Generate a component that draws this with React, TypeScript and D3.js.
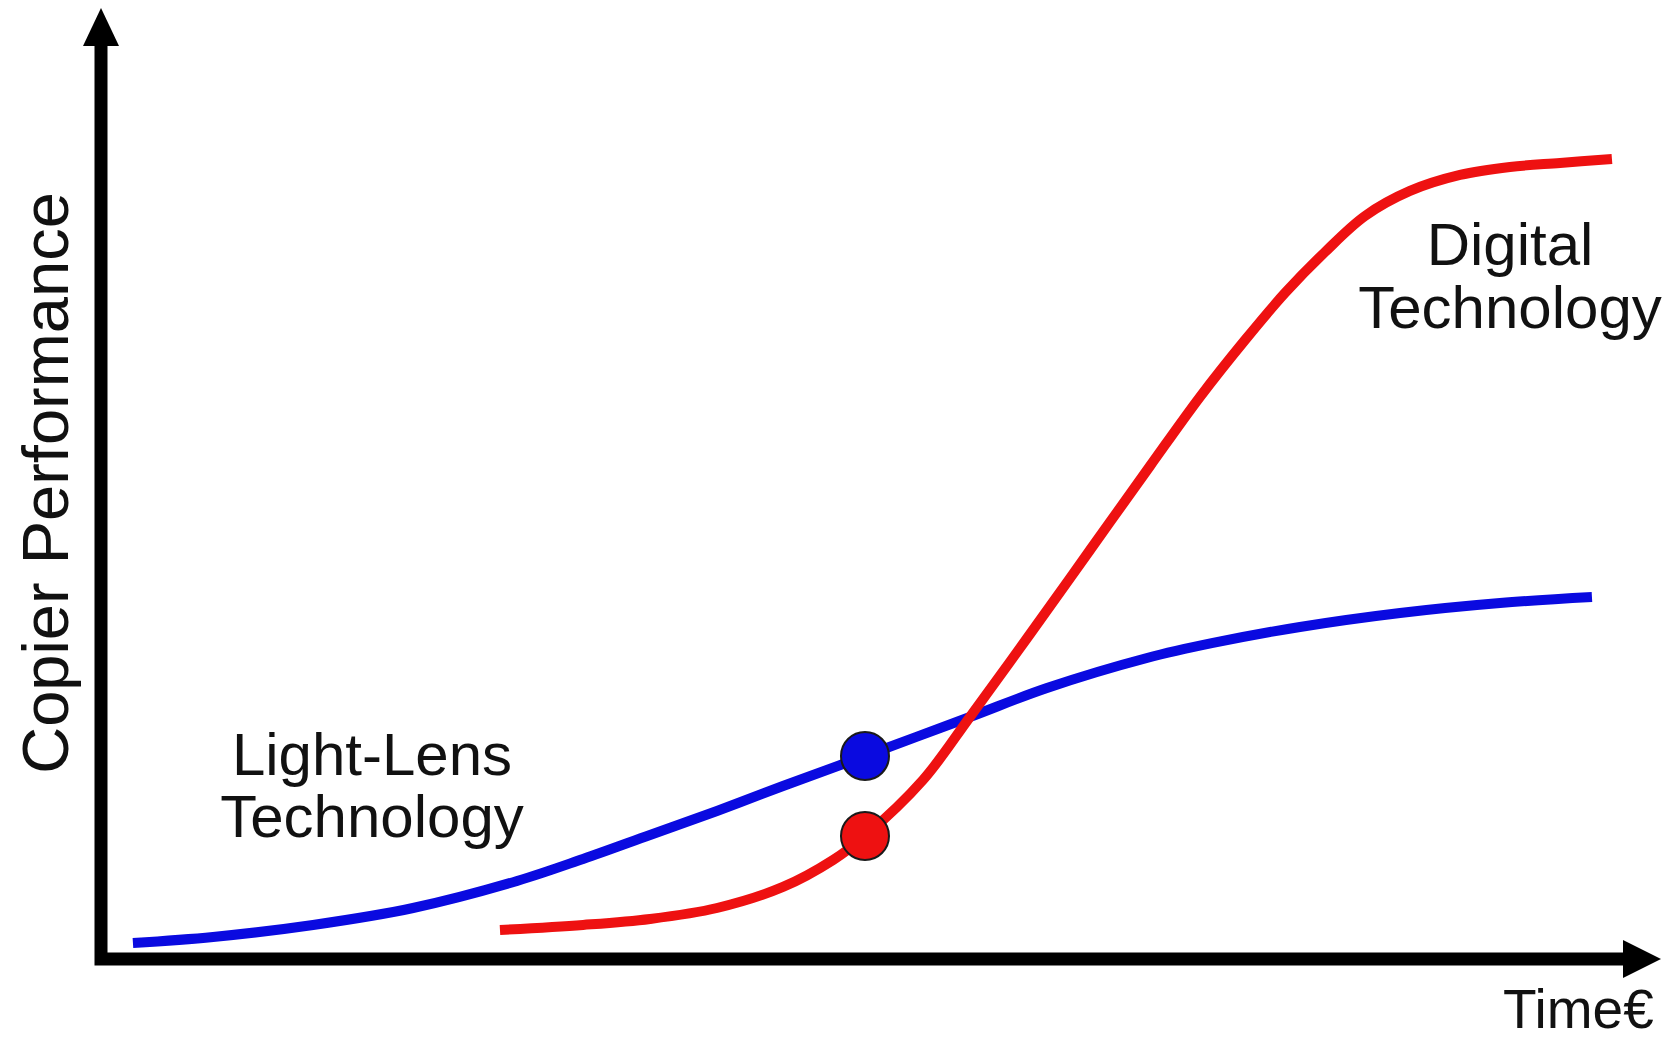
import React from "react";
import * as d3 from "d3";

// Light-Lens technology S-curve (time units 0..100, performance units 0..100)
const blueTime = [2.06, 7.23, 13.68, 20.13, 26.84, 31.1, 35.42, 39.74, 44.0, 49.29, 56.06, 61.03, 67.48, 71.74, 77.35, 83.81, 90.26, 96.19];
const bluePerf = [2.13, 2.88, 4.38, 6.5, 9.88, 12.63, 15.63, 18.63, 21.75, 25.5, 30.38, 34.0, 37.75, 39.63, 41.63, 43.38, 44.63, 45.38];

// Digital technology S-curve
const redTime = [25.74, 31.1, 35.42, 39.74, 44.0, 47.23, 49.29, 53.03, 56.06, 59.94, 63.81, 67.68, 70.9, 73.81, 76.39, 78.97, 81.55, 84.45, 87.68, 90.9, 94.13, 97.48];
const redPerf = [3.75, 4.38, 5.13, 6.5, 9.13, 12.5, 15.5, 22.5, 30.38, 40.75, 51.25, 61.75, 70.38, 77.5, 83.38, 88.5, 93.0, 96.13, 98.13, 99.13, 99.63, 100.13];

// Highlighted points
const markerTime = [49.29, 49.29];
const markerPerf = [25.5, 15.5];
const markerColor = ["#0a0ae0", "#ee1111"];

const yTitle = "Copier Performance";
const xTitle = "Time€";
const digitalLabel = ["Digital", "Technology"];
const lightLabel = ["Light-Lens", "Technology"];

const W = 1680;
const H = 1040;
const FONT = "'Liberation Sans', Arial, Helvetica, sans-serif";

export default function App() {
  const x = d3.scaleLinear().domain([0, 100]).range([101, 1651]);
  const y = d3.scaleLinear().domain([0, 100]).range([960, 160]);

  const line = d3
    .line<[number, number]>()
    .x((d) => x(d[0]))
    .y((d) => y(d[1]))
    .curve(d3.curveCatmullRom.alpha(0.5));

  const blue = blueTime.map((t, i) => [t, bluePerf[i]] as [number, number]);
  const red = redTime.map((t, i) => [t, redPerf[i]] as [number, number]);

  const axisX0 = 101;
  const axisY0 = 959;

  return (
    <svg
      width={W}
      height={H}
      style={{ position: "absolute", left: 0, top: 0, background: "#fff" }}
      xmlns="http://www.w3.org/2000/svg"
    >
      <rect x={0} y={0} width={W} height={H} fill="#fff" />
      {/* axes */}
      <path
        d={`M${axisX0},44 L${axisX0},${axisY0} L1626,${axisY0}`}
        fill="none"
        stroke="#000"
        strokeWidth={13}
        strokeLinejoin="miter"
      />
      <path d={`M${axisX0},8 L${axisX0 + 18},46 L${axisX0 - 18},46 Z`} fill="#000" />
      <path d={`M1661,${axisY0} L1623,${axisY0 - 19} L1623,${axisY0 + 19} Z`} fill="#000" />

      {/* curves */}
      <path d={line(blue) || ""} fill="none" stroke="#0a0ae0" strokeWidth={10} strokeLinecap="butt" />
      <path d={line(red) || ""} fill="none" stroke="#ee1111" strokeWidth={10} strokeLinecap="butt" />

      {markerTime.map((t, i) => (
        <circle key={i} cx={x(t)} cy={y(markerPerf[i])} r={24} fill={markerColor[i]} stroke="#1a1a1a" strokeWidth={2} />
      ))}

      {/* labels */}
      <text
        transform="translate(68,483) rotate(-90)"
        textAnchor="middle"
        fontFamily={FONT}
        fontSize={65}
        fill="#111"
      >
        {yTitle}
      </text>
      <text x={1503} y={1028} fontFamily={FONT} fontSize={55} fill="#111">
        {xTitle}
      </text>
      {digitalLabel.map((s, i) => (
        <text key={s} x={1510} y={265 + i * 63} textAnchor="middle" fontFamily={FONT} fontSize={60} fill="#111">
          {s}
        </text>
      ))}
      {lightLabel.map((s, i) => (
        <text key={s} x={372} y={775 + i * 62} textAnchor="middle" fontFamily={FONT} fontSize={60} fill="#111">
          {s}
        </text>
      ))}
    </svg>
  );
}
